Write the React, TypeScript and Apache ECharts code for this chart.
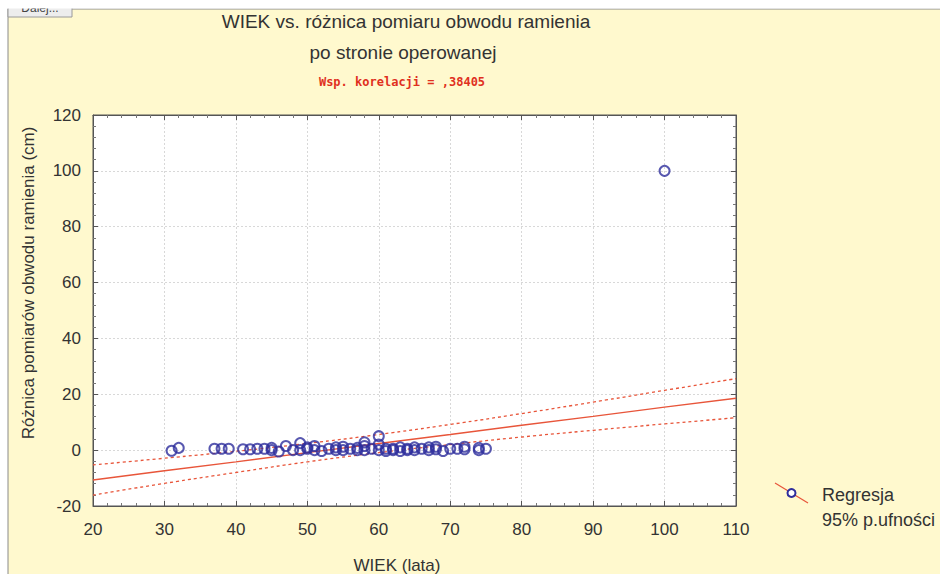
import React, { useEffect, useRef } from "react";
import * as echarts from "echarts";

const ages = [31, 32, 37, 38, 39, 41, 42, 43, 44, 45, 45, 46, 47, 48, 49, 49, 50, 50, 51, 51, 52, 53, 54, 54, 55, 55, 56, 57, 57, 58, 58, 58, 59, 60, 60, 60, 61, 61, 62, 62, 63, 63, 64, 64, 65, 65, 66, 67, 67, 68, 68, 69, 70, 71, 72, 72, 74, 74, 75, 100];
const diffs = [-0.2, 0.8, 0.5, 0.5, 0.5, 0.3, 0.3, 0.5, 0.5, 0, 0.8, -0.5, 1.5, 0, 2.5, 0, 0.5, 1, 1.5, 0, -0.3, 0.5, 1, 0, 1.2, 0, 0.5, 0, 0.8, 2.8, 1.5, 0, 0.5, 5, 2, 0, 0.5, -0.3, 0.5, 0, 1, -0.3, 0.5, 0, 1, 0, 0.5, 1, 0, 1.2, 0.3, -0.3, 0.5, 0.5, 1.2, 0.3, 0, 0.8, 0.5, 100];

const fitX = [20, 30, 40, 50, 60, 70, 80, 90, 100, 110];
const fitY = [-10.7, -7.4, -4.2, -0.9, 2.4, 5.6, 8.9, 12.1, 15.4, 18.6];
const upperY = [-5.3, -2.9, -0.4, 2.4, 5.6, 9.2, 13.1, 17.2, 21.4, 25.6];
const lowerY = [-16.1, -11.9, -8.0, -4.2, -0.9, 2.0, 4.7, 7.1, 9.4, 11.6];

const titleLines = ["WIEK vs. różnica pomiaru obwodu ramienia", "po stronie operowanej"];
const corrText = "Wsp. korelacji = ,38405";
const xName = "WIEK (lata)";
const yName = "Różnica pomiarów obwodu ramienia (cm)";
const legendLabels = ["Regresja", "95% p.ufności"];

const FONT = "'Liberation Sans', Arial, sans-serif";
const LINE_COLOR = "#E8553A";
const DOT_COLOR = "#2E2E9C";

export default function App() {
  const ref = useRef<HTMLDivElement>(null);
  useEffect(() => {
    if (!ref.current) return;
    const chart = echarts.init(ref.current, null, { renderer: "svg" });
    const pts = ages.map((a, i) => [a, diffs[i]]);
    const line = (ys: number[]) => fitX.map((x, i) => [x, ys[i]]);
    const axisCommon = {
      min: 20,
      max: 110,
      interval: 10,
    };
    chart.setOption({
      animation: false,
      backgroundColor: "#ffffff",
      graphic: [
        {
          type: "rect",
          z: -10,
          shape: { x: 8, y: 9, width: 940, height: 580 },
          style: { fill: "#FFF9CE", stroke: "#8a8a8a", lineWidth: 1 },
        },
        {
          type: "rect",
          z: 5,
          shape: { x: 8, y: 6, width: 64, height: 11 },
          style: { fill: "#EDEDED", stroke: "#9a9a9a", lineWidth: 1 },
        },
        {
          type: "text",
          z: 6,
          x: 40,
          y: 8,
          style: { text: "Dalej...", fill: "#444", font: `12px ${FONT}`, textAlign: "center", textVerticalAlign: "middle" },
        },
        {
          type: "rect",
          z: 7,
          shape: { x: 0, y: 0, width: 940, height: 8.5 },
          style: { fill: "#ffffff" },
        },
        {
          type: "text",
          x: 406,
          y: 21,
          style: { text: titleLines[0], fill: "#333", font: `19px ${FONT}`, textAlign: "center", textVerticalAlign: "middle" },
        },
        {
          type: "text",
          x: 403,
          y: 52,
          style: { text: titleLines[1], fill: "#333", font: `19px ${FONT}`, textAlign: "center", textVerticalAlign: "middle" },
        },
        {
          type: "text",
          x: 402,
          y: 82,
          style: { text: corrText, fill: "#E0301E", font: `bold 12px 'DejaVu Sans Mono', 'Liberation Mono', monospace`, textAlign: "center", textVerticalAlign: "middle" },
        },
        {
          type: "text",
          x: 397,
          y: 565,
          style: { text: xName, fill: "#333", font: `17px ${FONT}`, textAlign: "center", textVerticalAlign: "middle" },
        },
        {
          type: "text",
          x: 28,
          y: 283,
          rotation: Math.PI / 2,
          style: { text: yName, fill: "#333", font: `17px ${FONT}`, textAlign: "center", textVerticalAlign: "middle" },
        },
        {
          type: "line",
          shape: { x1: 775, y1: 483, x2: 808, y2: 503 },
          style: { stroke: LINE_COLOR, lineWidth: 1.2 },
        },
        {
          type: "circle",
          shape: { cx: 791.5, cy: 493, r: 4 },
          style: { fill: "#ffffff", stroke: DOT_COLOR, lineWidth: 2 },
        },
        {
          type: "text",
          x: 822,
          y: 495,
          style: { text: legendLabels[0], fill: "#333", font: `18px ${FONT}`, textAlign: "left", textVerticalAlign: "middle" },
        },
        {
          type: "text",
          x: 822,
          y: 520,
          style: { text: legendLabels[1], fill: "#333", font: `18px ${FONT}`, textAlign: "left", textVerticalAlign: "middle" },
        },
      ],
      grid: {
        left: 93,
        right: 204,
        top: 115,
        bottom: 68,
        show: true,
        backgroundColor: "#ffffff",
        borderColor: "#555",
        borderWidth: 1,
      },
      xAxis: [
        {
          type: "value",
          ...axisCommon,
          position: "bottom",
          axisLine: { show: true, onZero: false, lineStyle: { color: "#555" } },
          axisTick: { show: true, inside: true, length: 5, lineStyle: { color: "#555" } },
          minorTick: { show: true, splitNumber: 5, length: 3, lineStyle: { color: "#777" } },
          axisLabel: { color: "#333", fontSize: 17, fontFamily: FONT, margin: 15 },
          splitLine: { show: true, lineStyle: { color: "#d8d8d8", type: [2, 2] } },
        },
        {
          type: "value",
          ...axisCommon,
          position: "top",
          axisLine: { show: true, onZero: false, lineStyle: { color: "#555" } },
          axisTick: { show: true, inside: true, length: 5, lineStyle: { color: "#555" } },
          minorTick: { show: true, splitNumber: 5, length: 3, lineStyle: { color: "#777" } },
          axisLabel: { show: false },
          splitLine: { show: false },
        },
      ],
      yAxis: [
        {
          type: "value",
          min: -20,
          max: 120,
          interval: 20,
          position: "left",
          axisLine: { show: true, onZero: false, lineStyle: { color: "#555" } },
          axisTick: { show: true, inside: true, length: 5, lineStyle: { color: "#555" } },
          minorTick: { show: true, splitNumber: 5, length: 3, lineStyle: { color: "#777" } },
          axisLabel: { color: "#333", fontSize: 17, fontFamily: FONT, margin: 12 },
          splitLine: { show: true, lineStyle: { color: "#d8d8d8", type: [2, 2] } },
        },
        {
          type: "value",
          min: -20,
          max: 120,
          interval: 20,
          position: "right",
          axisLine: { show: true, onZero: false, lineStyle: { color: "#555" } },
          axisTick: { show: true, inside: true, length: 5, lineStyle: { color: "#555" } },
          minorTick: { show: true, splitNumber: 5, length: 3, lineStyle: { color: "#777" } },
          axisLabel: { show: false },
          splitLine: { show: false },
        },
      ],
      series: [
        {
          type: "line",
          data: line(fitY),
          showSymbol: false,
          symbol: "none",
          lineStyle: { color: LINE_COLOR, width: 1.4 },
          z: 2,
        },
        {
          type: "line",
          data: line(upperY),
          smooth: true,
          symbol: "none",
          lineStyle: { color: LINE_COLOR, width: 1.3, type: [3, 3] },
          z: 2,
        },
        {
          type: "line",
          data: line(lowerY),
          smooth: true,
          symbol: "none",
          lineStyle: { color: LINE_COLOR, width: 1.3, type: [3, 3] },
          z: 2,
        },
        {
          type: "scatter",
          data: pts,
          symbol: "circle",
          symbolSize: 10,
          itemStyle: { color: "rgba(255,255,255,0)", borderColor: DOT_COLOR, borderWidth: 2 },
          z: 3,
        },
      ],
    });
    return () => chart.dispose();
  }, []);
  return (
    <div
      ref={ref}
      style={{ position: "fixed", left: 0, top: 0, width: 940, height: 574 }}
    />
  );
}
